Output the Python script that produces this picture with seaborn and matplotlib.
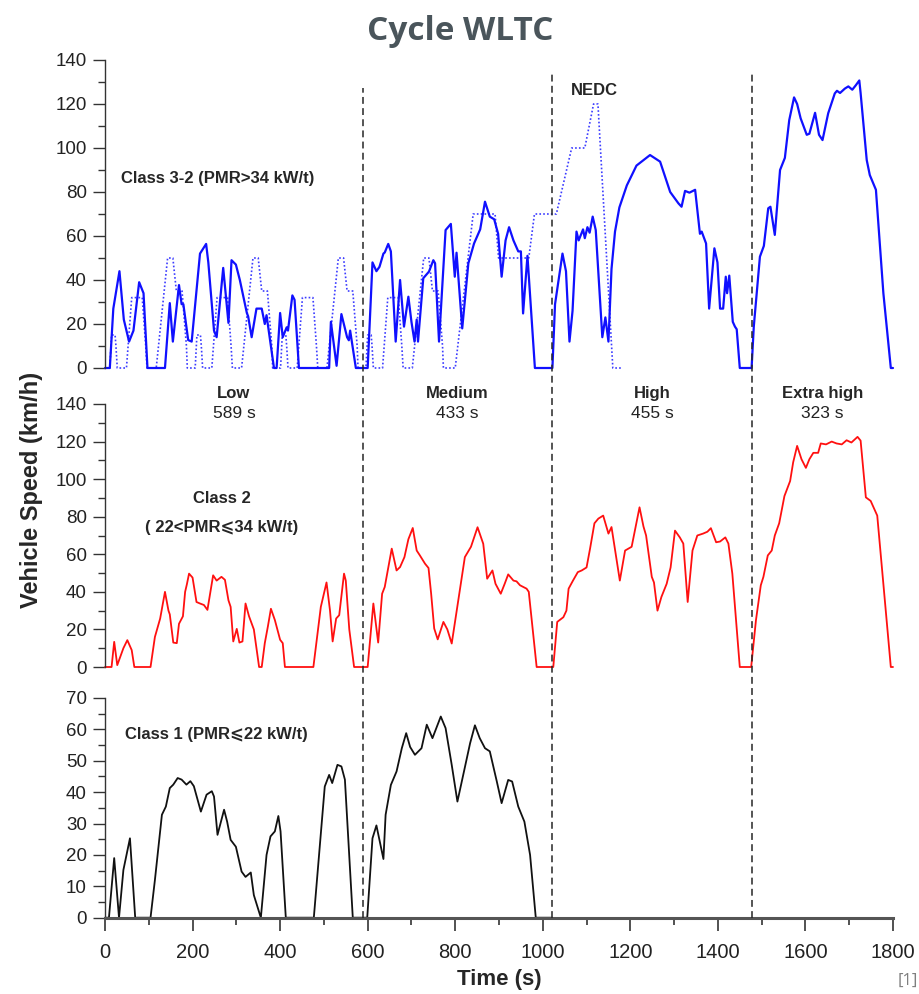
import numpy as np
import pandas as pd
import matplotlib
matplotlib.use("Agg")
import matplotlib.pyplot as plt
import seaborn as sns
from matplotlib.ticker import MultipleLocator

# =============================================================================
# DATA
# =============================================================================

phase_names = ["Low", "Medium", "High", "Extra high"]
phase_edges = [0, 589, 1022, 1477, 1800]

# Class 3-2 (blue, solid)
class3_t = [0, 11, 19, 33, 43, 55, 65, 78, 88, 97, 137, 148, 155, 169, 175, 179,
            190, 198, 217, 231, 236, 249, 255, 270, 282, 289, 299, 308, 324, 327,
            335, 346, 358, 365, 369, 386, 392, 400, 406, 415, 418, 428, 433, 443,
            512, 516, 529, 540, 553, 557, 560, 573,
            600, 611, 620, 627, 636, 639, 647, 653, 664, 674, 683, 693, 700, 707,
            712, 715, 727, 740, 750, 754, 763, 778, 790, 799, 803, 816, 830, 843,
            857, 868, 879, 889, 898, 906, 915, 923, 933, 944, 950, 955, 965, 982,
            1022, 1028, 1045, 1053, 1061, 1068, 1077, 1082, 1092, 1096, 1102, 1107,
            1114, 1121, 1136, 1143, 1150, 1157, 1165, 1175, 1192, 1214, 1245, 1268,
            1291, 1310, 1317, 1325, 1335, 1348, 1359, 1363, 1373, 1380, 1392, 1399,
            1405, 1412, 1418, 1421, 1426, 1434, 1439, 1443, 1450,
            1477, 1482, 1496, 1505, 1515, 1520, 1530, 1542, 1553, 1563, 1574, 1581,
            1589, 1603, 1609, 1622, 1631, 1639, 1652, 1667, 1672, 1679, 1690, 1698,
            1707, 1715, 1723, 1726, 1740, 1747, 1761, 1778, 1795, 1800]
class3_v = [0, 0, 27, 44, 22, 12, 17, 39, 34, 0, 0, 29.5, 12, 37.7, 29, 29,
            12.7, 12, 52, 56.4, 48, 17, 14, 45.5, 20.5, 49, 47, 40, 25, 23.5,
            14, 27, 27, 20, 24, 0, 0, 25, 14, 18.5, 17, 33, 31, 0,
            0, 21, 1, 24.5, 14, 12.6, 17, 0,
            0, 48, 44, 46, 52, 52.5, 56.4, 53, 12, 40, 18.8, 32.4, 21, 12,
            22, 12, 40.8, 43.8, 49, 47.6, 12, 62.7, 65.5, 41.5, 52.4, 18, 47.6, 56.6,
            63, 75.6, 68.8, 67.6, 61, 41.5, 58, 64, 58, 53, 53, 24.8, 51, 0,
            0, 29, 52, 44, 12, 26, 62, 58, 63, 59, 64, 61.5,
            68.8, 62.7, 14, 23, 12, 45, 62, 73, 83, 92, 96.8, 93.8,
            80, 74.8, 73.3, 80.5, 79.7, 81, 61, 62, 56.6, 27, 54.4, 48,
            27, 27, 41.5, 34, 42, 21, 18.8, 17.6, 0,
            0, 18.8, 50.6, 55.5, 72.6, 73.3, 60.5, 90, 95.5, 112.7, 123, 120,
            113.5, 106, 106.5, 116, 106, 103.6, 115.8, 124.8, 126, 125, 127, 128,
            126.5, 128.5, 130.7, 125, 94.5, 87.7, 81, 34, 0, 0]

# NEDC (blue, dotted)
nedc_t = [0, 11, 15, 23, 25, 28, 49, 61, 85, 93, 96, 117, 143, 155, 163, 176, 186, 188,
          195, 206, 210, 218, 220, 223, 244, 256, 280, 288, 291, 312, 338, 350, 358, 371, 381, 383,
          390, 401, 405, 413, 415, 418, 439, 451, 475, 483, 486, 507, 533, 545, 553, 566, 576, 578,
          585, 596, 600, 608, 610, 613, 634, 646, 670, 678, 681, 702, 728, 740, 748, 761, 771, 773,
          780, 800, 841, 891, 899, 968, 981, 1031, 1066, 1096, 1116, 1126, 1160, 1180]
nedc_v = [0, 0, 15, 15, 10, 0, 0, 32, 32, 10, 0, 0, 50, 50, 35, 35, 10, 0,
          0, 0, 15, 15, 10, 0, 0, 32, 32, 10, 0, 0, 50, 50, 35, 35, 10, 0,
          0, 0, 15, 15, 10, 0, 0, 32, 32, 10, 0, 0, 50, 50, 35, 35, 10, 0,
          0, 0, 15, 15, 10, 0, 0, 32, 32, 10, 0, 0, 50, 50, 35, 35, 10, 0,
          0, 0, 70, 70, 50, 50, 70, 70, 100, 100, 120, 120, 0, 0]

# Class 2 (red)
class2_t = [0, 15, 21, 28, 42, 51, 61, 67, 104, 114, 126, 137, 145, 148, 156, 164,
            169, 178, 183, 187, 192, 200, 209, 217, 226, 234, 240, 247, 255, 266,
            274, 282, 287, 293, 301, 307, 314, 321, 329, 340, 352, 358, 365, 372,
            379, 388, 400, 406, 411, 476, 493, 506, 514, 520, 528, 535, 546, 550,
            558, 569,
            600, 613, 624, 633, 639, 655, 666, 674, 684, 693, 703, 712, 719, 731,
            739, 745, 752, 760, 773, 782, 792, 807, 822, 836, 851, 864, 873, 885,
            892, 904, 913, 921, 933, 940, 948, 963, 968, 986,
            1024, 1033, 1047, 1054, 1059, 1069, 1080, 1089, 1100, 1108, 1118, 1127,
            1138, 1150, 1157, 1176, 1188, 1203, 1221, 1230, 1236, 1249, 1254, 1262,
            1271, 1283, 1292, 1302, 1313, 1321, 1331, 1342, 1353, 1366, 1376, 1384,
            1396, 1405, 1417, 1424, 1433, 1450,
            1476, 1487, 1498, 1504, 1514, 1523, 1530, 1540, 1552, 1565, 1572, 1581,
            1591, 1601, 1609, 1618, 1629, 1635, 1647, 1660, 1671, 1683, 1694, 1705,
            1719, 1726, 1738, 1749, 1764, 1795, 1800]
class2_v = [0, 0, 13.4, 1, 10, 14.3, 9, 0, 0, 16, 25.8, 40, 30, 28, 13, 12.7,
            23, 27, 40, 44, 49.7, 47.6, 34.6, 33.8, 33, 30.4, 39, 48.8, 46, 48,
            46.4, 35.5, 32, 13.6, 20.3, 13, 13.6, 33.8, 27, 20, 0, 0, 12.7, 21.5,
            31, 25, 14.5, 12.7, 0, 0, 32, 45, 30, 13.6, 25.8, 27.6, 49.7, 46,
            20, 0,
            0, 33.8, 13, 39, 42.6, 63, 51.4, 53.2, 58.5, 68, 74, 62, 59.5, 55,
            52.7, 39, 20.5, 14.7, 24, 20, 12.5, 35.5, 58.5, 64, 74.4, 65.6, 47, 51.4,
            44.3, 39, 44.3, 49.3, 46, 45.6, 43.5, 41.7, 40, 0,
            0, 24, 26.5, 30, 41.7, 46, 50.5, 51.4, 53, 63, 76.5, 79,
            80.6, 71, 74.5, 46, 62, 64, 85, 74.8, 70, 48, 45, 30,
            37.3, 44.3, 53, 72.6, 69, 65.7, 34.6, 62, 70, 71, 72, 73.9,
            66.4, 66.8, 69, 65.7, 49.7, 0,
            0, 25, 43.5, 48, 59.4, 62, 70, 76.5, 91, 99, 109, 117.7,
            110.6, 106, 110.6, 114, 114, 119, 118.5, 120, 119, 118.5, 120.7, 119.5,
            122.5, 120.5, 90.3, 88.4, 80.6, 0, 0]

# Class 1 (black)
class1_t = [0, 9, 21, 32, 42, 57, 69, 104, 114, 130, 139, 148, 156, 166, 175, 186,
            195, 203, 219, 232, 244, 249, 257, 272, 279, 287, 299, 312, 321, 333,
            340, 356, 369, 378, 388, 396, 401, 413, 477, 502, 512, 519, 531, 540,
            548, 566,
            599, 611, 620, 636, 641, 653, 666, 678, 688, 697, 708, 723, 735, 748,
            767, 778, 792, 805, 820, 834, 845, 856, 868, 879, 895, 906, 921, 930,
            944, 958, 971, 984, 1022]
class1_v = [0, 0, 19, 0, 15.2, 25.3, 0, 0, 12, 32.8, 35.4, 41.3, 42.4, 44.5, 44, 42.4,
            43.5, 41.9, 33.8, 39.2, 40.3, 38.6, 26.4, 34.4, 30.6, 24.8, 22.6, 14.7, 13, 14.4,
            7.2, 0, 20, 25.9, 27.5, 32.4, 27.5, 0, 0, 41.8, 45.5, 42.9, 48.7, 48.2,
            44, 0,
            0, 25.3, 29.4, 18.7, 32.8, 42.3, 46.6, 54, 58.8, 54.4, 51.9, 54, 61.5, 57.2,
            64.1, 60.4, 48.7, 37, 46.6, 55.6, 61.3, 57.2, 54, 53, 43.4, 36.5, 43.9, 43.4,
            35.4, 30.6, 20, 0, 0]

# =============================================================================
# FIGURE
# =============================================================================

sns.set_style("ticks")
plt.rcParams["font.family"] = ["Liberation Sans", "DejaVu Sans"]
plt.rcParams["axes.edgecolor"] = "#333333"
plt.rcParams["lines.solid_joinstyle"] = "round"

W, H = 920, 994
fig = plt.figure(figsize=(W / 100, H / 100), dpi=100)


def box(top_px, bottom_px):
    return [105 / W, 1 - bottom_px / H, 788 / W, (bottom_px - top_px) / H]


ax3 = fig.add_axes(box(60, 368))
ax2 = fig.add_axes(box(404, 667))
ax1 = fig.add_axes(box(698, 917.7))

df_nedc = pd.DataFrame({"t": nedc_t, "v": nedc_v})
df3 = pd.DataFrame({"t": class3_t, "v": class3_v})
df2 = pd.DataFrame({"t": class2_t, "v": class2_v})
df1 = pd.DataFrame({"t": class1_t, "v": class1_v})

sns.lineplot(data=df_nedc, x="t", y="v", ax=ax3, color="#3c3cff", linewidth=1.2,
             linestyle=(0, (1, 1.3)), estimator=None)
sns.lineplot(data=df3, x="t", y="v", ax=ax3, color="#1010ff", linewidth=1.6, estimator=None)
sns.lineplot(data=df2, x="t", y="v", ax=ax2, color="#ff1010", linewidth=1.3, estimator=None)
sns.lineplot(data=df1, x="t", y="v", ax=ax1, color="#111111", linewidth=1.3, estimator=None)

for ax, ymax, major, minor in [(ax3, 140, 20, 10), (ax2, 140, 20, 10), (ax1, 70, 10, 5)]:
    ax.set_xlim(0, 1800)
    ax.set_ylim(0, ymax)
    ax.set_xlabel("")
    ax.set_ylabel("")
    ax.yaxis.set_major_locator(MultipleLocator(major))
    ax.yaxis.set_minor_locator(MultipleLocator(minor))
    ax.tick_params(axis="y", which="major", length=9, width=1.0, labelsize=13.5, pad=4,
                   color="#333333", labelcolor="#222222")
    ax.tick_params(axis="y", which="minor", length=5, width=1.0, color="#333333")
    ax.spines["top"].set_visible(False)
    ax.spines["right"].set_visible(False)
    ax.spines["left"].set_linewidth(1.0)
    ax.patch.set_alpha(0)
    for line in ax.lines:
        line.set_clip_on(False)

for ax in (ax3, ax2):
    ax.spines["bottom"].set_visible(False)
    ax.tick_params(axis="x", which="both", bottom=False, labelbottom=False)

ax1.xaxis.set_major_locator(MultipleLocator(200))
ax1.xaxis.set_minor_locator(MultipleLocator(100))
ax1.tick_params(axis="x", which="major", length=9.5, width=1.2, labelsize=14.5, pad=9,
                color="#333333", labelcolor="#222222")
ax1.tick_params(axis="x", which="minor", length=5, width=1.2, color="#333333")
ax1.spines["bottom"].set_linewidth(2.2)
ax1.spines["bottom"].set_color("#555555")

# phase labels
mids = [(a + b) / 2 for a, b in zip(phase_edges[:-1], phase_edges[1:])]
durs = np.diff(phase_edges)
for m, name, d in zip(mids, phase_names, durs):
    ax2.text(m, 145.4, name, ha="center", va="center", fontsize=12,
             fontweight="bold", clip_on=False)
    ax2.text(m, 134.8, f"{d} s", ha="center", va="center", fontsize=12.5,
             color="#222222", clip_on=False)

# class labels
ax3.text(36, 86, "Class 3-2 (PMR>34 kW/t)", ha="left", va="center",
         fontsize=12, fontweight="bold")
ax3.text(1064, 126, "NEDC", ha="left", va="center", fontsize=12, fontweight="bold")
ax2.text(267, 89.6, "Class 2", ha="center", va="center", fontsize=12, fontweight="bold")
ax2.text(267, 74, "( 22<PMR⩽34 kW/t)", ha="center", va="center",
         fontsize=12, fontweight="bold")
ax1.text(46, 58.3, "Class 1 (PMR⩽22 kW/t)", ha="left", va="center",
         fontsize=12, fontweight="bold")

# dashed phase separators across all panels
ov = fig.add_axes([105 / W, 1 - 917.7 / H, 788 / W, (917.7 - 60) / H], facecolor="none")
ov.set_xlim(0, 1800)
ov.set_ylim(0, 1)
ov.axis("off")
line_tops = [0.967, 0.986, 0.986]
ov.vlines(phase_edges[1:-1], 0, line_tops, colors="#262626",
          linestyles=[(0, (4.5, 2.8))], linewidth=1.1)

# titles and axis labels
fig.text(0.5, 1 - 32 / H, "Cycle WLTC", ha="center", va="center", fontsize=24,
         fontweight="bold", family="Open Sans", color="#4a555b")
fig.text(32 / W, 1 - 490 / H, "Vehicle Speed (km/h)", rotation=90, ha="center",
         va="center", fontsize=17, fontweight="bold")
fig.text(499 / W, 1 - 980 / H, "Time (s)", ha="center", va="center", fontsize=16,
         fontweight="bold")
fig.text(0.998, 1 - 981 / H, "[1]", ha="right", va="center", fontsize=12,
         family="Open Sans", color="#7f7f7f")

fig.savefig("out.png", dpi=100)
plt.close(fig)
